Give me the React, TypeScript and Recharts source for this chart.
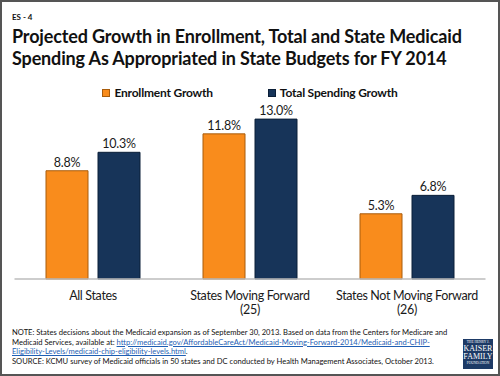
import React from 'react';
import { BarChart, Bar, XAxis, YAxis, Legend, LabelList } from 'recharts';

const categories = ['All States', 'States Moving Forward', 'States Not Moving Forward'];
const categoryCounts = ['', '(25)', '(26)'];
const enrollmentGrowth = [8.8, 11.8, 5.3];
const totalSpendingGrowth = [10.3, 13.0, 6.8];
const seriesNames = ['Enrollment Growth', 'Total Spending Growth'];
const seriesColors = ['#F98C1C', '#173459'];
const seriesStrokes = ['#a85c0c', '#0b1f38'];

const FONT = 'Lato, "Open Sans", sans-serif';

const chartData = categories.map((name, i) => ({
  name,
  count: categoryCounts[i],
  enrollment: enrollmentGrowth[i],
  spending: totalSpendingGrowth[i],
}));

const CategoryTick = (props: any) => {
  const { x, y, payload, index } = props;
  const count = categoryCounts[index ?? categories.indexOf(payload.value)];
  return (
    <g transform={`translate(${x},${y})`}>
      <text textAnchor="middle" fontSize={12.5} fill="#1a1a1a" fontFamily={FONT} letterSpacing={-0.35}>
        <tspan x={0} dy={20.5}>{payload.value}</tspan>
        {count ? <tspan x={0} dy={14.5}>{count}</tspan> : null}
      </text>
    </g>
  );
};

const LegendContent = () => (
  <div
    style={{
      display: 'flex',
      justifyContent: 'center',
      gap: 55,
      fontFamily: FONT,
      fontWeight: 700,
      fontSize: 12,
      letterSpacing: -0.2,
      color: '#111',
    }}
  >
    {seriesNames.map((s, i) => (
      <div key={s} style={{ display: 'flex', alignItems: 'center' }}>
        <span
          style={{
            display: 'inline-block',
            width: 6,
            height: 6,
            background: seriesColors[i],
            border: `1px solid ${seriesStrokes[i]}`,
            marginRight: 4,
          }}
        />
        {s}
      </div>
    ))}
  </div>
);

const pct = (v: any) => `${Number(v).toFixed(1)}%`;

export default function App() {
  return (
    <div
      style={{
        position: 'absolute',
        left: 0,
        top: 0,
        width: 500,
        height: 376,
        boxSizing: 'border-box',
        border: '2px solid #555',
        background: '#fff',
        fontFamily: FONT,
        overflow: 'hidden',
      }}
    >
      <div style={{ position: 'absolute', left: -2, top: -2 }}>
        <BarChart
          width={500}
          height={330}
          data={chartData}
          margin={{ top: 106.8, right: 14.5, bottom: 1, left: 14.5 }}
          barCategoryGap={31.5}
          barGap={10}
        >
          <XAxis
            dataKey="name"
            height={50}
            axisLine={{ stroke: '#bdbdbd', strokeWidth: 1.5 }}
            tickLine={false}
            tickSize={0}
            tickMargin={0}
            interval={0}
            tick={<CategoryTick />}
          />
          <YAxis hide domain={[0, 14]} />
          <Legend
            verticalAlign="middle"
            align="center"
            content={<LegendContent />}
            wrapperStyle={{ position: 'absolute', top: 85, left: 0, width: 500 }}
          />
          <Bar
            dataKey="enrollment"
            name={seriesNames[0]}
            fill={seriesColors[0]}
            stroke={seriesStrokes[0]}
            strokeWidth={1}
            isAnimationActive={false}
          >
            <LabelList dataKey="enrollment" position="top" offset={4} formatter={pct} fontSize={12.5} fill="#1a1a1a" fontFamily={FONT} letterSpacing={-0.2} />
          </Bar>
          <Bar
            dataKey="spending"
            name={seriesNames[1]}
            fill={seriesColors[1]}
            stroke={seriesStrokes[1]}
            strokeWidth={1}
            isAnimationActive={false}
          >
            <LabelList dataKey="spending" position="top" offset={4} formatter={pct} fontSize={12.5} fill="#1a1a1a" fontFamily={FONT} letterSpacing={-0.2} />
          </Bar>
        </BarChart>
      </div>

      <div style={{ position: 'absolute', left: 10, top: 10, fontSize: 8, fontWeight: 700, color: '#111' }}>ES - 4</div>
      <div
        style={{
          position: 'absolute',
          left: 10,
          top: 23,
          fontSize: 18,
          fontWeight: 700,
          lineHeight: '22.4px',
          letterSpacing: -0.15,
          color: '#111',
          whiteSpace: 'nowrap',
        }}
      >
        Projected Growth in Enrollment, Total and State Medicaid
        <br />
        Spending As Appropriated in State Budgets for FY 2014
      </div>

      <div
        style={{
          position: 'absolute',
          left: 10,
          top: 326,
          fontSize: 7.6,
          lineHeight: '9.6px',
          color: '#111',
          whiteSpace: 'nowrap',
        }}
      >
        NOTE: States decisions about the Medicaid expansion as of September 30, 2013. Based on data from the Centers for Medicare and
        <br />
        Medicaid Services, available at:{' '}
        <span style={{ color: '#1f5fb4', textDecoration: 'underline' }}>
          http://medicaid.gov/AffordableCareAct/Medicaid-Moving-Forward-2014/Medicaid-and-CHIP-
        </span>
        <br />
        <span style={{ color: '#1f5fb4', textDecoration: 'underline' }}>Eligibility-Levels/medicaid-chip-eligibility-levels.html</span>.
        <br />
        SOURCE: KCMU survey of Medicaid officials in 50 states and DC conducted by Health Management Associates, October 2013.
      </div>

      <div
        style={{
          position: 'absolute',
          left: 461,
          top: 337,
          width: 30,
          height: 30,
          background: '#1d3a66',
          color: '#fff',
          fontFamily: '"Liberation Serif", serif',
          textAlign: 'center',
          overflow: 'hidden',
        }}
      >
        <div style={{ fontSize: 3.5, lineHeight: '5px', marginTop: 1 }}>THE HENRY J.</div>
        <div style={{ fontSize: 8, lineHeight: '8px' }}>KAISER</div>
        <div style={{ fontSize: 8, lineHeight: '8px' }}>FAMILY</div>
        <div style={{ fontSize: 3.5, lineHeight: '5px' }}>FOUNDATION</div>
      </div>
    </div>
  );
}
